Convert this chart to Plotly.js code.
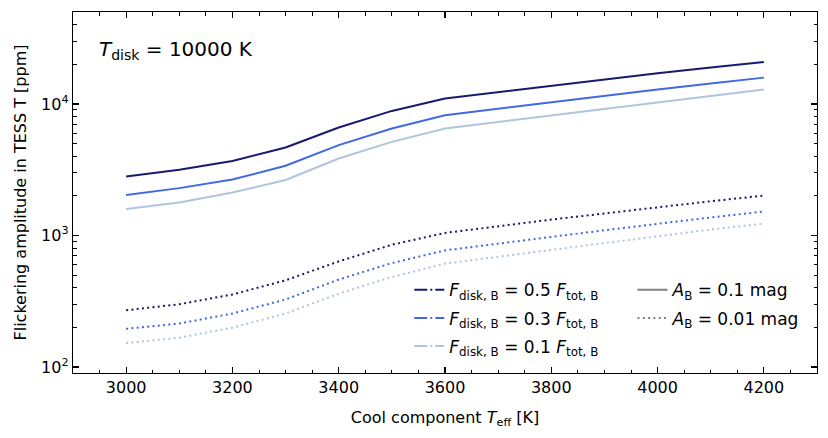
<!DOCTYPE html>
<html>
<head>
<meta charset="utf-8">
<script src="https://cdn.plot.ly/plotly-3.0.1.min.js"></script>
<style>
  body { margin: 0; padding: 0; background: #fff; }
  #plot { width: 828px; height: 438px; }
</style>
</head>
<body>
<div id="plot"></div>
<script>
// cool component effective temperature [K]
var teff = [3000, 3100, 3200, 3300, 3400, 3500, 3600, 3700, 3800, 3900, 4000, 4100, 4200];

// A_B = 0.1 mag
var amp01_f05 = [2810, 3160, 3680, 4670, 6620, 8850, 11000, 12300, 13800, 15400, 17100, 18900, 20800];
var amp01_f03 = [2030, 2290, 2660, 3390, 4860, 6500, 8200, 9200, 10350, 11550, 12900, 14300, 15850];
var amp01_f01 = [1590, 1780, 2120, 2640, 3850, 5150, 6500, 7300, 8200, 9200, 10300, 11500, 12850];

// A_B = 0.01 mag
var amp001_f05 = [270, 300, 356, 456, 635, 850, 1045, 1180, 1320, 1470, 1640, 1820, 2010];
var amp001_f03 = [195, 214, 255, 326, 462, 617, 770, 870, 975, 1095, 1230, 1370, 1520];
var amp001_f01 = [152, 167, 199, 255, 361, 483, 611, 690, 780, 880, 995, 1110, 1230];

var fracLabels = ['0.5', '0.3', '0.1'];
var colors = ['#191970', '#4169e1', '#b0c4de'];
var ampLabels = ['0.1', '0.01'];

var dotDash = '2px,3.3px';
var data = [];

var solid = [amp01_f05, amp01_f03, amp01_f01];
var dotted = [amp001_f05, amp001_f03, amp001_f01];

for (var i = 0; i < 3; i++) {
    data.push({
        x: teff, y: solid[i], type: 'scatter', mode: 'lines',
        line: {color: colors[i], width: 2}, showlegend: false, hoverinfo: 'x+y'
    });
    data.push({
        x: teff, y: dotted[i], type: 'scatter', mode: 'lines',
        line: {color: colors[i], width: 2, dash: dotDash}, showlegend: false, hoverinfo: 'x+y'
    });
}

// legend entries only
for (var j = 0; j < 3; j++) {
    data.push({
        x: [null], y: [null], type: 'scatter', mode: 'lines',
        name: '<i>F</i><sub>disk, B</sub> = ' + fracLabels[j] + ' <i>F</i><sub>tot, B</sub>',
        line: {color: colors[j], width: 2, dash: '13px,3px,2px,3px'},
        legend: 'legend', legendgroup: 'f' + j
    });
}
for (var k = 0; k < 2; k++) {
    data.push({
        x: [null], y: [null], type: 'scatter', mode: 'lines',
        name: '<i>A</i><sub>B</sub> = ' + ampLabels[k] + ' mag',
        line: {color: '#808080', width: 2, dash: k === 0 ? 'solid' : dotDash},
        legend: 'legend2', legendgroup: 'a' + k
    });
}

var axisCommon = {
    showline: true, linecolor: '#000', linewidth: 1.2, mirror: 'allticks',
    ticks: 'inside', ticklen: 6, tickwidth: 1.2, tickcolor: '#000',
    showgrid: false, zeroline: false,
    tickfont: {family: 'DejaVu Sans', size: 16, color: '#000'}
};

var layout = {
    width: 828, height: 438,
    margin: {l: 73, r: 11, t: 12, b: 65},
    paper_bgcolor: '#fff', plot_bgcolor: '#fff',
    font: {family: 'DejaVu Sans', size: 16, color: '#000'},
    xaxis: Object.assign({}, axisCommon, {
        range: [2900, 4300], tickmode: 'linear', tick0: 3000, dtick: 200,
        minor: {ticks: 'inside', ticklen: 3.5, tickwidth: 1, tickcolor: '#000', dtick: 50, tick0: 3000},
        title: {text: 'Cool component <i>T</i><sub>eff</sub> [K]', font: {size: 16}, standoff: 15}
    }),
    yaxis: Object.assign({}, axisCommon, {
        type: 'log', range: [Math.log10(90), Math.log10(50000)],
        tickvals: [100, 1000, 10000],
        ticktext: ['10<sup>2</sup>', '10<sup>3</sup>', '10<sup>4</sup>'],
        minor: {ticks: 'inside', ticklen: 3.5, tickwidth: 1, tickcolor: '#000', dtick: 'D1'},
        title: {text: 'Flickering amplitude in TESS T [ppm]', font: {size: 16}, standoff: 10}
    }),
    legend: {
        x: 0.452, xanchor: 'left', y: 0.279, yanchor: 'top',
        bgcolor: 'rgba(0,0,0,0)', font: {size: 17}, tracegroupgap: 3
    },
    legend2: {
        x: 0.752, xanchor: 'left', y: 0.279, yanchor: 'top',
        bgcolor: 'rgba(0,0,0,0)', font: {size: 17}, tracegroupgap: 3
    },
    annotations: [{
        xref: 'paper', yref: 'paper', x: 0.032, y: 0.895,
        xanchor: 'left', yanchor: 'middle', showarrow: false,
        text: '<i>T</i><sub>disk</sub> = 10000 K',
        font: {family: 'DejaVu Sans', size: 20, color: '#000'}
    }]
};

Plotly.newPlot('plot', data, layout, {displayModeBar: false, staticPlot: true});
</script>
</body>
</html>
